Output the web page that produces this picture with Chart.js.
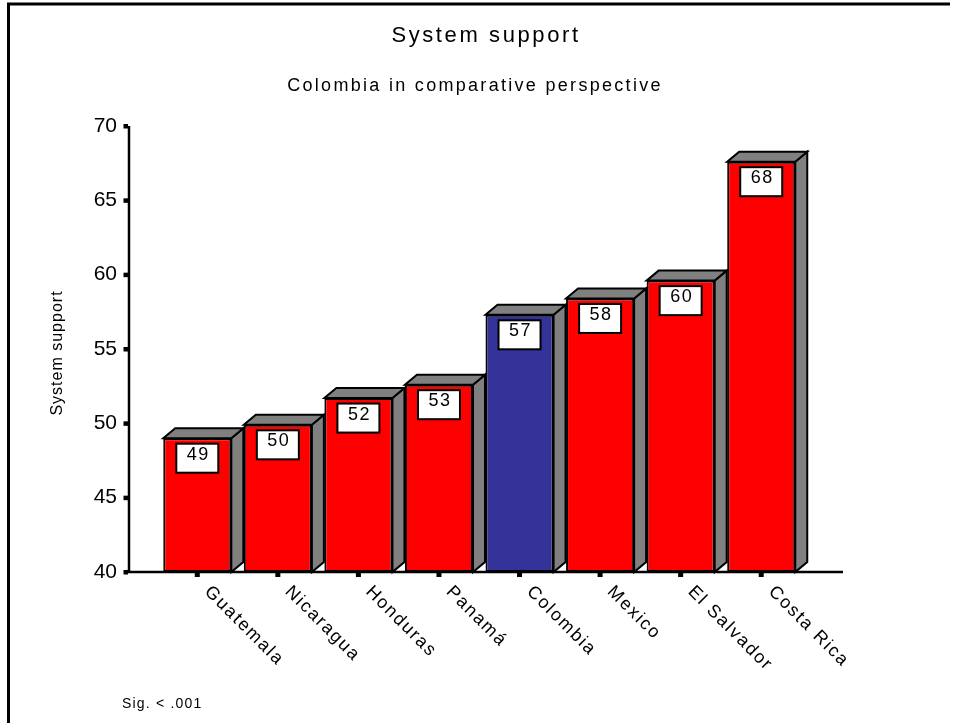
<!DOCTYPE html>
<html>
<head>
<meta charset="utf-8">
<title>System support</title>
<script src="https://cdn.jsdelivr.net/npm/chart.js@4.4.1/dist/chart.umd.min.js"></script>
<style>
    html, body { margin: 0; padding: 0; background: #fff; }
    canvas { display: block; }
</style>
</head>
<body>
<canvas id="supportChart" width="959" height="723"></canvas>
<script>
// Mean system support by country
const countries = ['Guatemala', 'Nicaragua', 'Honduras', 'Panamá', 'Colombia', 'Mexico', 'El Salvador', 'Costa Rica'];
const support = [49.0, 49.9, 51.7, 52.6, 57.3, 58.4, 59.6, 67.6];
const highlighted = 'Colombia';
const yTicks = [40, 45, 50, 55, 60, 65, 70];

const FONT = "'Liberation Sans', Arial, sans-serif";
const RED = '#ff0000';
const BLUE = '#333399';
const SIDE = '#808080';
const DX = 12, DY = -10;   // depth of the 3D bars

function text(ctx, str, x, y, size, spacing, align, baseline) {
    ctx.font = size + 'px ' + FONT;
    ctx.letterSpacing = spacing + 'px';
    ctx.textAlign = align || 'left';
    ctx.textBaseline = baseline || 'alphabetic';
    ctx.fillStyle = '#000';
    ctx.fillText(str, x, y);
}

const bars3d = {
    id: 'bars3d',
    beforeDraw(chart) {
        const ctx = chart.ctx;
        ctx.save();
        ctx.fillStyle = '#fff';
        ctx.fillRect(0, 0, chart.width, chart.height);

        // frame
        ctx.strokeStyle = '#000';
        ctx.lineWidth = 3;
        ctx.beginPath();
        ctx.moveTo(8.5, 723);
        ctx.lineTo(8.5, 4);
        ctx.lineTo(950, 4);
        ctx.stroke();

        text(ctx, 'System support', 486, 42, 22, 2.6, 'center');
        text(ctx, 'Colombia in comparative perspective', 475, 91, 18, 2.3, 'center');
        text(ctx, 'Sig. < .001', 122, 708, 14, 1.2, 'left');

        ctx.translate(58, 353);
        ctx.rotate(-Math.PI / 2);
        text(ctx, 'System support', 0, 0, 16, 1, 'center', 'middle');
        ctx.restore();
    },
    beforeDatasetsDraw(chart) {
        const ctx = chart.ctx;
        const meta = chart.getDatasetMeta(0);
        ctx.save();
        ctx.fillStyle = SIDE;
        ctx.strokeStyle = '#000';
        ctx.lineWidth = 2;
        ctx.lineJoin = 'miter';
        meta.data.forEach(bar => {
            const half = bar.width / 2;
            const l = bar.x - half, r = bar.x + half;
            const t = bar.y, b = bar.base;
            // side
            ctx.beginPath();
            ctx.moveTo(r, t);
            ctx.lineTo(r + DX, t + DY);
            ctx.lineTo(r + DX, b + DY);
            ctx.lineTo(r, b);
            ctx.closePath();
            ctx.fill();
            ctx.stroke();
            // top
            ctx.beginPath();
            ctx.moveTo(l, t);
            ctx.lineTo(l + DX, t + DY);
            ctx.lineTo(r + DX, t + DY);
            ctx.lineTo(r, t);
            ctx.closePath();
            ctx.fill();
            ctx.stroke();
        });
        ctx.restore();
    },
    afterDatasetsDraw(chart) {
        const ctx = chart.ctx;
        const meta = chart.getDatasetMeta(0);
        const xs = chart.scales.x, ys = chart.scales.y;
        const axisX = 129, axisY = ys.getPixelForValue(yTicks[0]);
        ctx.save();

        // value boxes
        meta.data.forEach((bar, i) => {
            const bx = bar.x - 21, by = bar.y + 5.5;
            ctx.fillStyle = '#fff';
            ctx.fillRect(bx, by, 42, 29);
            ctx.strokeStyle = '#000';
            ctx.lineWidth = 2;
            ctx.strokeRect(bx, by, 42, 29);
            text(ctx, String(Math.round(support[i])), bar.x + 1, by + 16, 18, 1.5, 'center');
        });

        // axes
        ctx.strokeStyle = '#000';
        ctx.lineWidth = 2.5;
        ctx.beginPath();
        ctx.moveTo(axisX, ys.getPixelForValue(yTicks[yTicks.length - 1]));
        ctx.lineTo(axisX, axisY);
        ctx.lineTo(843, axisY);
        ctx.stroke();

        ctx.fillStyle = '#000';
        yTicks.forEach(v => {
            const y = ys.getPixelForValue(v);
            ctx.fillRect(axisX - 5.5, y - 2, 4.5, 4.5);
        });
        countries.forEach((c, i) => {
            const x = xs.getPixelForValue(i);
            ctx.fillRect(x - 2.5, axisY, 5, 5);
            ctx.save();
            ctx.translate(x + 10, axisY + 17);
            ctx.rotate(Math.PI / 4);
            text(ctx, c, 0, 0, 18, 1.8, 'left', 'middle');
            ctx.restore();
        });
        ctx.restore();
    }
};

new Chart(document.getElementById('supportChart'), {
    type: 'bar',
    data: {
        labels: countries,
        datasets: [{
            data: support,
            base: yTicks[0],
            backgroundColor: countries.map(c => c === highlighted ? BLUE : RED),
            borderColor: '#000',
            borderWidth: 2,
            borderSkipped: false,
            categoryPercentage: 1,
            barPercentage: 0.845
        }]
    },
    options: {
        responsive: false,
        animation: false,
        layout: {
            padding: { top: 126, bottom: 151, left: 57, right: 157.5 }
        },
        plugins: {
            legend: { display: false },
            tooltip: { enabled: false }
        },
        scales: {
            x: {
                grid: { display: false, drawTicks: false },
                border: { display: false },
                ticks: { display: false },
                afterFit(scale) { scale.height = 0; }
            },
            y: {
                min: yTicks[0],
                max: yTicks[yTicks.length - 1],
                grid: { display: false, drawTicks: false },
                border: { display: false },
                ticks: {
                    stepSize: 5,
                    padding: 40,
                    color: '#000',
                    font: { family: FONT, size: 21 }
                },
                afterFit(scale) { scale.width = 100; }
            }
        }
    },
    plugins: [bars3d]
});
</script>
</body>
</html>
